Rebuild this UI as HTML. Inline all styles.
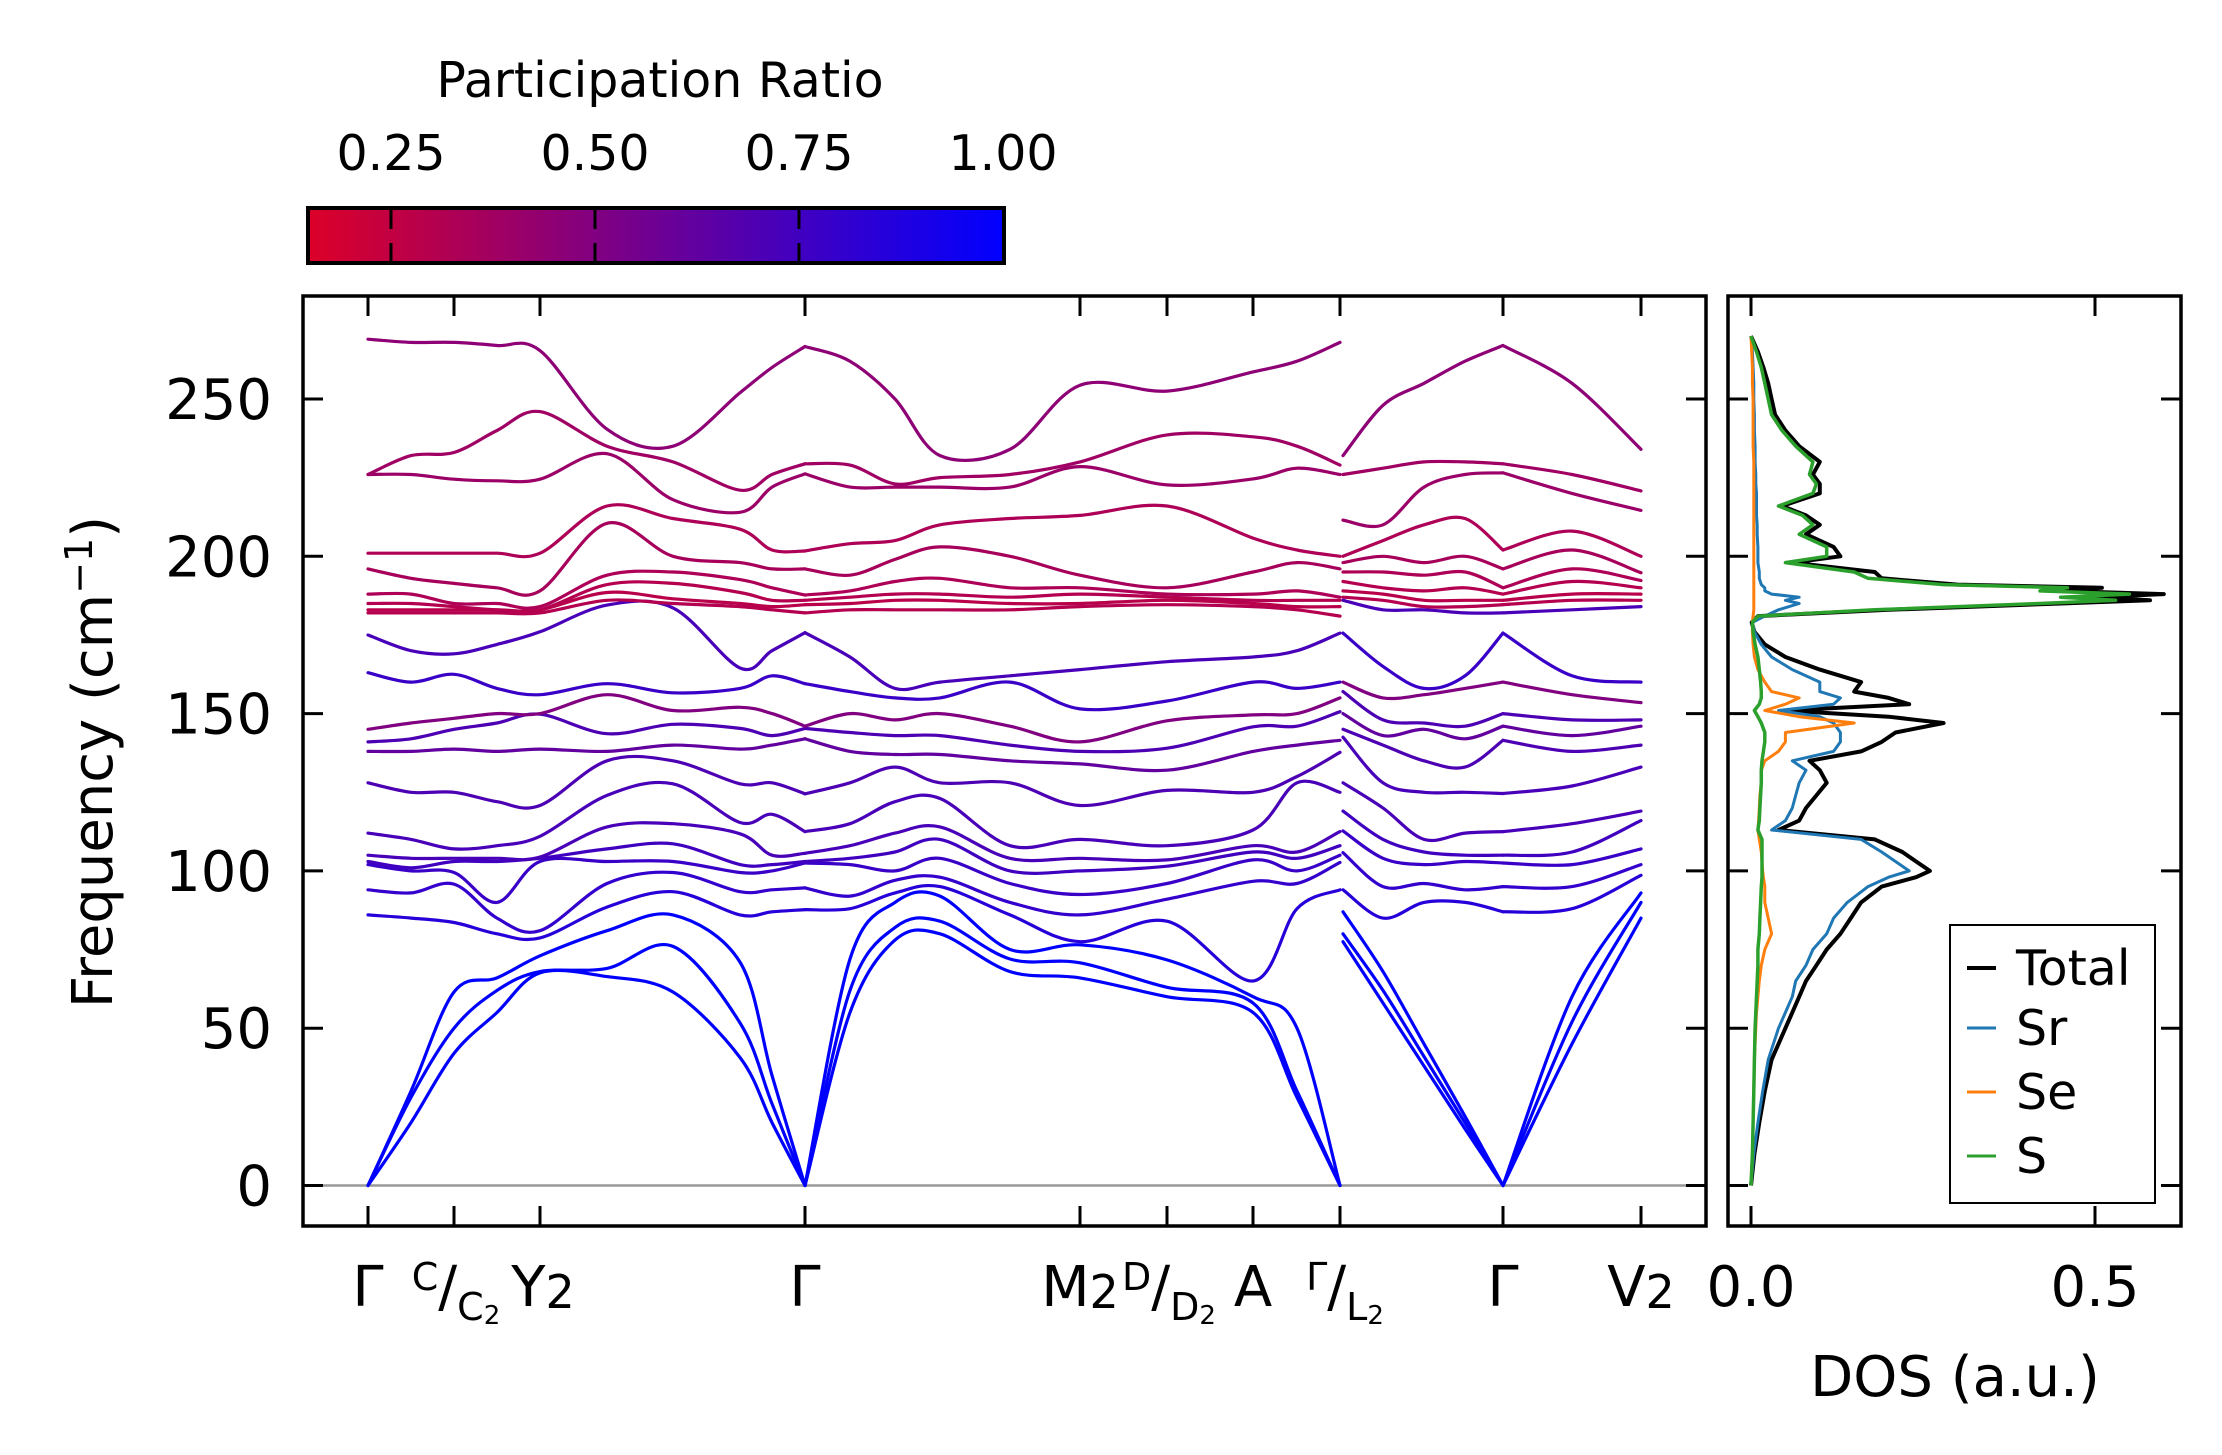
<!DOCTYPE html>
<html><head><meta charset="utf-8"><style>
html,body{margin:0;padding:0;background:#fff;}
svg{display:block;font-family:"DejaVu Sans","Liberation Sans",sans-serif;}
</style></head><body>
<svg id="fig" width="2222" height="1455" viewBox="0 0 2222 1455" xmlns="http://www.w3.org/2000/svg">
<defs>
<linearGradient id="cmap" x1="0" x2="1" y1="0" y2="0">
<stop offset="0" stop-color="rgb(220,0,40)"/><stop offset="1" stop-color="rgb(0,0,255)"/>
</linearGradient>
</defs>
<g id="colorbar">
<text x="660" y="97" font-size="49" text-anchor="middle">Participation Ratio</text>
<rect x="308" y="208" width="696" height="55" fill="url(#cmap)" stroke="#000" stroke-width="4"/>
<g id="cbticks"></g>
</g>
<g id="bandplot"></g>
<g id="dosplot"></g>
</svg>
<script>
// ---------- data ----------
const cbTickValues=[0.25,0.5,0.75,1.0];
const cbTickLabels=["0.25","0.50","0.75","1.00"];
const yTickValues=[0,50,100,150,200,250];
const kTicks=[0,0.86,1.72,4.37,7.12,7.99,8.85,9.72,11.35,12.73];
const pieceA_k=[0,0.43,0.86,1.29,1.72,2.39,3.05,3.72,4.04,4.37];
const pieceB_k=[4.37,4.82,5.27,5.72,6.42,7.12,7.99,8.85,9.29,9.72];
const pieceC_k=[9.75,10.15,10.56,10.97,11.35];
const pieceD_k=[11.35,12.04,12.73];
const pieceA_f=[
[0,0,0,86,94,102,103,105,112,128,138,141,145,163,175,182,183,185,188,196,201,226,226,269],
[20,28,30,85,93,100,101,104,110,125,138,142,147,160,170,182,183,185,188,193,201,226,232,268],
[42,50,61.5,83.6,95.8,99.5,103,104,107,125,138.7,145,148.5,162.5,169,182,183,184,185,191.4,201,224.5,233,268],
[55,62,66,80,85,90,103,104,108,122,138,147,150,158,172,182,183,183,185,190,201,224,240,267],
[67.6,68,73,78.7,81,103,104,104.4,111,120.8,138.7,149.8,150,156,176,182,183,183,184,189,201,224.5,246,265.4],
[66.4,69,81,88.5,96,103,107,114,124,135,138,143.6,156,159.5,184.5,186,188.5,191,194,210.5,216,232.6,235,240.4],
[61.5,76,86,93.4,99.5,103,108.6,115,127.7,135,140,146.6,151,156.6,183.6,185,186.5,191.4,195,200,212,218,230,235],
[40.7,51.7,71,86,93.4,99.5,102,111.8,115.4,127.7,138.7,145.3,152,158,164.5,184,185,188.5,192.6,198,208.6,214,221,252],
[20,26,35,87,94,100,102,105,118,128,140,143,150,162,170,183,184,186,190,196,202,222,226,260],
[0,0,0,87.7,94.6,102.5,103,105.6,112.5,124.5,142,145.3,146,159.5,175.7,182,184.6,186,187.7,196,201.7,226.2,229.4,266.7]];
const pieceB_f=[
[0,0,0,87.7,94.6,102.5,103,105.6,112.5,124.5,142,145.3,146,159.5,175.7,182,184.6,186,187.7,196,201.7,226.2,229.4,266.7],
[55,62,72,88,92,102,104,108,115,128,138,144,150,157,168,183,185,187,189,194,204,222,229,262],
[78,82,90,93,97,100,106,112,122,133,137,143,148,155,158,183,186,188,192,199,205,222,223,250],
[80,84,92,95,98,104,110,114,123,128,137,143,150,155,160,183,186,188,193,203,210,222,225,232],
[68,72,75,86,90,96,100,104,108,128,135,140,146,160,162,183,185,187,190,200,212,222,226,234],
[66,70.8,76.5,77.5,86,92.5,100,104,110,120.8,134,138,141,151.5,164,184,185,188,190,194,213,228.5,230,254.4],
[60,63,71.7,84,91,96,101.5,103.5,108,125.6,132,139,147.7,154,166.5,184.6,186,187,188,190,216,222.7,238.6,252.5],
[55,58,60,65,96.7,103.5,106,108,113,125,138,145.8,149.6,160,168,184,185,186,188,195,205.8,224.6,238,258.6],
[28,30,50,88,96,100,104,106,128,130,140,146,150,158,170,183,184,186,189,198,202,228,235,262],
[0,0,0,94,102.7,105,108,112.5,125,137.7,141.5,150.6,155,160,175.6,181,184,186,187,196,200,226,229,268]];
const pieceC_f=[
[77.5,80,87,94,105.8,112.7,119,128,142.5,145,150,157,160,175.6,186,187,189,192,195,198,200,211.5,226,232],
[58,62,68,85,95,104,110,120,128,140,143,148,155,165,183,186,188,190,195,200,205,210,228,248],
[38,41,45,90,96,102,106,110,125,135,145,147,156,158,183,184,186,189,194,198,210,222,230,255],
[18,20,22,90,94,103,105,112,125,133,142,146,158,162,182,184,186,190,195,200,212,226,230,262],
[0,0,0,87,95,102.5,105,112.5,124.6,141.5,146,150,160,175.6,182,184.6,186,188,190,196,202,226.5,229.4,267]];
const pieceD_f=[
[0,0,0,87,95,102.5,105,112.5,124.6,141.5,146,150,160,175.6,182,184.6,186,188,190,196,202,226.5,229.4,267],
[45,52,60,88,95,102,106,115,127,138,143,148,156,162,183,186,188,192,196,202,208,220,226,255],
[85,90,93,98.6,102,107,116,119,133,140,146,148,153.5,160,184,186,188,190,192.3,194.8,200,214.6,220.8,234]];
const bandPR=[1,1,1,0.85,0.8,0.78,0.75,0.72,0.72,0.7,0.62,0.7,0.5,0.78,0.72,0.3,0.28,0.3,0.33,0.35,0.33,0.4,0.38,0.45];

const dosFreq=[0,10,20,30,40,50,55,60,65,70,75,80,85,90,95,98,100,103,106,110,113,116,120,124,128,132,135,138,141,144,147,149,151,153,155,157,160,164,168,172,176,179,181,183,185,186,187,188,189,190,191,193,195,198,200,203,207,210,213,216,220,223,226,230,235,240,245,250,255,260,265,270];
const dosTotal=[0,0.005,0.012,0.02,0.03,0.05,0.06,0.07,0.08,0.095,0.11,0.13,0.145,0.16,0.19,0.24,0.26,0.24,0.22,0.18,0.04,0.07,0.08,0.095,0.11,0.1,0.085,0.16,0.19,0.21,0.28,0.2,0.05,0.23,0.2,0.15,0.16,0.1,0.05,0.02,0.005,0.001,0.01,0.2,0.45,0.58,0.5,0.6,0.45,0.51,0.3,0.19,0.18,0.06,0.13,0.12,0.08,0.1,0.08,0.045,0.1,0.1,0.09,0.1,0.07,0.05,0.035,0.03,0.025,0.018,0.01,0];
const dosSr=[0,0.004,0.01,0.017,0.025,0.04,0.05,0.06,0.065,0.08,0.09,0.11,0.12,0.14,0.17,0.2,0.23,0.21,0.19,0.16,0.03,0.05,0.06,0.065,0.07,0.08,0.06,0.12,0.13,0.13,0.12,0.1,0.04,0.12,0.13,0.1,0.1,0.06,0.03,0.015,0.005,0.002,0.02,0.04,0.07,0.05,0.07,0.03,0.02,0.02,0.015,0.012,0.012,0.01,0.01,0.01,0.009,0.009,0.008,0.008,0.008,0.007,0.007,0.006,0.006,0.005,0.005,0.004,0.004,0.003,0.002,0];
const dosSe=[0,0.002,0.003,0.004,0.005,0.007,0.008,0.01,0.012,0.015,0.02,0.03,0.025,0.02,0.02,0.018,0.017,0.016,0.015,0.012,0.01,0.011,0.012,0.013,0.015,0.015,0.02,0.04,0.05,0.05,0.15,0.07,0.02,0.05,0.07,0.03,0.02,0.01,0.005,0.003,0.002,0.002,0.003,0.004,0.004,0.004,0.004,0.004,0.004,0.004,0.004,0.004,0.004,0.004,0.004,0.004,0.004,0.004,0.004,0.004,0.004,0.004,0.004,0.004,0.003,0.003,0.003,0.003,0.002,0.002,0.001,0];
const dosS=[0,0.002,0.003,0.004,0.005,0.006,0.007,0.008,0.009,0.01,0.01,0.012,0.013,0.014,0.015,0.016,0.016,0.016,0.016,0.016,0.01,0.012,0.013,0.014,0.015,0.015,0.016,0.018,0.02,0.02,0.015,0.01,0.005,0.012,0.015,0.015,0.014,0.012,0.01,0.006,0.003,0.002,0.01,0.18,0.42,0.53,0.45,0.55,0.42,0.46,0.28,0.17,0.15,0.05,0.11,0.11,0.07,0.09,0.075,0.04,0.09,0.095,0.085,0.09,0.065,0.045,0.03,0.025,0.02,0.015,0.008,0];
const dosTicks=[0,0.5];
const dosTickLabels=["0.0","0.5"];

// ---------- helpers ----------
const NS="http://www.w3.org/2000/svg";
function mk(tag,attrs,parent){const e=document.createElementNS(NS,tag);for(const k in attrs)e.setAttribute(k,attrs[k]);parent.appendChild(e);return e;}
const Y0=1185.5, YS=3.146;
function yScale(f){return Y0-f*YS;}
function xScale(k){return 368+k*100;}
function dosX(v){return 1751+v*688;}
function cbX(v){return 391+(v-0.25)*816;}
function cmap(v){const t=Math.max(0,Math.min(1,(v-0.146)/0.854));return `rgb(${Math.round(220*(1-t))},0,${Math.round(40+215*t)})`;}
function smoothPath(pts){
  let d=`M${pts[0][0].toFixed(1)},${pts[0][1].toFixed(1)}`;
  for(let i=0;i<pts.length-1;i++){
    const p0=pts[Math.max(0,i-1)],p1=pts[i],p2=pts[i+1],p3=pts[Math.min(pts.length-1,i+2)];
    const c1=[p1[0]+(p2[0]-p0[0])/6,p1[1]+(p2[1]-p0[1])/6];
    const c2=[p2[0]-(p3[0]-p1[0])/6,p2[1]-(p3[1]-p1[1])/6];
    d+=`C${c1[0].toFixed(1)},${c1[1].toFixed(1)} ${c2[0].toFixed(1)},${c2[1].toFixed(1)} ${p2[0].toFixed(1)},${p2[1].toFixed(1)}`;
  }
  return d;
}

// ---------- colorbar ticks ----------
const cbt=document.getElementById('cbticks');
cbTickValues.forEach((v,i)=>{
  const x=cbX(v);
  if(v<1){
    const t1=mk('line',{x1:x,x2:x,y1:210,y2:229,stroke:'#000','stroke-width':3},cbt);
    
    
    const t2=mk('line',{x1:x,x2:x,y1:243,y2:262,stroke:'#000','stroke-width':3},cbt);
    
    
  }
  const tx=mk('text',{x:x,y:170,'font-size':49,'text-anchor':'middle'},cbt);
  tx.textContent=cbTickLabels[i];
  
  
});

// ---------- band plot ----------
const bp=document.getElementById('bandplot');
const L=303,R=1706,T=296,B=1226;
const zl=mk('line',{x1:L,x2:R,y1:Y0,y2:Y0,stroke:'#999','stroke-width':2.5},bp);


const pieces=[[pieceA_k,pieceA_f],[pieceB_k,pieceB_f],[pieceC_k,pieceC_f],[pieceD_k,pieceD_f]];
const bandG=mk('g',{fill:'none','stroke-width':3.2,'stroke-linecap':'round'},bp);


for(let b=0;b<24;b++){
  pieces.forEach(([ks,fs])=>{
    const pts=ks.map((k,i)=>[xScale(k),yScale(fs[i][b])]);
    const p=mk('path',{d:smoothPath(pts),stroke:cmap(bandPR[b])},bandG);
    
    
  });
}
const fr=mk('rect',{x:L,y:T,width:R-L,height:B-T,fill:'none',stroke:'#000','stroke-width':3.5},bp);


yTickValues.forEach(v=>{
  const y=yScale(v);
  mk('line',{x1:L,x2:L+20,y1:y,y2:y,stroke:'#000','stroke-width':3},bp);
  mk('line',{x1:R-20,x2:R,y1:y,y2:y,stroke:'#000','stroke-width':3},bp);
  const t=mk('text',{x:272,y:y+20,'font-size':56,'text-anchor':'end'},bp);
  t.textContent=String(v);
  
  
});
kTicks.forEach(k=>{
  const x=xScale(k);
  mk('line',{x1:x,x2:x,y1:T,y2:T+20,stroke:'#000','stroke-width':3},bp);
  mk('line',{x1:x,x2:x,y1:B-20,y2:B,stroke:'#000','stroke-width':3},bp);
});
const yt=mk('text',{x:0,y:0,'font-size':56,'text-anchor':'middle',transform:'translate(112,762) rotate(-90)'},bp);
yt.innerHTML='Frequency (cm<tspan dy="-20" font-size="38">−1</tspan><tspan dy="20">)</tspan>';


const xl=mk('g',{'font-size':56},bp);


xl.innerHTML=
 '<text x="368" y="1306" text-anchor="middle">Γ</text>'+
 '<text x="456" y="1306" text-anchor="middle"><tspan font-size="38" dy="-16">C</tspan><tspan dy="16">/</tspan><tspan font-size="38" dy="14">C</tspan><tspan font-size="26" dy="4">2</tspan></text>'+
 '<text x="543" y="1306" text-anchor="middle">Y<tspan font-size="46" dy="2">2</tspan></text>'+
 '<text x="805" y="1306" text-anchor="middle">Γ</text>'+
 '<text x="1080" y="1306" text-anchor="middle">M<tspan font-size="46" dy="2">2</tspan></text>'+
 '<text x="1169" y="1306" text-anchor="middle"><tspan font-size="38" dy="-16">D</tspan><tspan dy="16">/</tspan><tspan font-size="38" dy="14">D</tspan><tspan font-size="26" dy="4">2</tspan></text>'+
 '<text x="1253" y="1306" text-anchor="middle">A</text>'+
 '<text x="1345" y="1306" text-anchor="middle"><tspan font-size="38" dy="-16">Γ</tspan><tspan dy="16">/</tspan><tspan font-size="38" dy="14">L</tspan><tspan font-size="26" dy="4">2</tspan></text>'+
 '<text x="1503" y="1306" text-anchor="middle">Γ</text>'+
 '<text x="1641" y="1306" text-anchor="middle">V<tspan font-size="46" dy="2">2</tspan></text>';

// ---------- DOS plot ----------
const dp=document.getElementById('dosplot');
const DL=1728,DR=2181;
function dosLine(vals,color,name,w){
  const pts=dosFreq.map((f,i)=>`${dosX(vals[i]).toFixed(1)},${yScale(f).toFixed(1)}`).join(' ');
  const pl=mk('polyline',{points:pts,fill:'none',stroke:color,'stroke-width':w,'stroke-linejoin':'round'},dp);
  
  
}
dosLine(dosTotal,'#000','dos-total-line',4);
dosLine(dosSr,'#1f77b4','dos-sr-line',3);
dosLine(dosSe,'#ff7f0e','dos-se-line',3);
dosLine(dosS,'#2ca02c','dos-s-line',3.5);
const dfr=mk('rect',{x:DL,y:T,width:DR-DL,height:B-T,fill:'none',stroke:'#000','stroke-width':3.5},dp);


yTickValues.forEach(v=>{
  const y=yScale(v);
  mk('line',{x1:DL,x2:DL+20,y1:y,y2:y,stroke:'#000','stroke-width':3},dp);
  mk('line',{x1:DR-20,x2:DR,y1:y,y2:y,stroke:'#000','stroke-width':3},dp);
});
dosTicks.forEach((v,i)=>{
  const x=dosX(v);
  mk('line',{x1:x,x2:x,y1:T,y2:T+20,stroke:'#000','stroke-width':3},dp);
  mk('line',{x1:x,x2:x,y1:B-20,y2:B,stroke:'#000','stroke-width':3},dp);
  const t=mk('text',{x:x,y:1306,'font-size':56,'text-anchor':'middle'},dp);
  t.textContent=dosTickLabels[i];
  
  
});
const dxt=mk('text',{x:1955,y:1396,'font-size':56,'text-anchor':'middle'},dp);
dxt.textContent='DOS (a.u.)';


// legend
const lg=mk('g',{},dp);


mk('rect',{x:1950,y:925,width:205,height:278,fill:'#fff',stroke:'#000','stroke-width':2},lg);
const legNames=['Total','Sr','Se','S'];
const legColors=['#000','#1f77b4','#ff7f0e','#2ca02c'];
const legY=[968,1028,1092,1156];
legNames.forEach((n,i)=>{
  const e=mk('g',{},lg);
  
  
  mk('line',{x1:1967,x2:1996,y1:legY[i],y2:legY[i],stroke:legColors[i],'stroke-width':i==0?4:3},e);
  const t=mk('text',{x:2016,y:legY[i]+17,'font-size':49},e);
  t.textContent=n;
});
</script>
</body></html>
